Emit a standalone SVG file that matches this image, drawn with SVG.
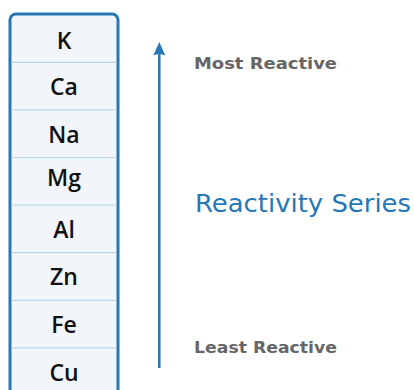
<svg xmlns="http://www.w3.org/2000/svg" width="414" height="390" viewBox="0 0 414 390">
<style>
.box{fill:#f2f6fa;stroke:#2677b5;stroke-width:3}
.div{stroke:#b9d5ec;stroke-width:1.2}
.el{font-family:"Open Sans","DejaVu Sans",sans-serif;font-weight:600;font-size:23px;fill:#111;text-anchor:middle}
.lbl{font-family:"DejaVu Sans",sans-serif;font-weight:bold;font-size:16.5px;fill:#666}
.title{font-family:"DejaVu Sans",sans-serif;font-size:25px;fill:#2677b5}
.conn{stroke:#2677b5;stroke-width:2.5;fill:none}
</style>
<rect width="414" height="390" fill="#ffffff"/>
<g id="series">
<rect class="box" x="10" y="14" width="108" height="400" rx="6"/>
<line class="div" x1="11.5" y1="62.3" x2="116.5" y2="62.3"/>
<line class="div" x1="11.5" y1="109.9" x2="116.5" y2="109.9"/>
<line class="div" x1="11.5" y1="157.5" x2="116.5" y2="157.5"/>
<line class="div" x1="11.5" y1="205.1" x2="116.5" y2="205.1"/>
<line class="div" x1="11.5" y1="252.7" x2="116.5" y2="252.7"/>
<line class="div" x1="11.5" y1="300.3" x2="116.5" y2="300.3"/>
<line class="div" x1="11.5" y1="347.9" x2="116.5" y2="347.9"/>
</g>
<g id="K"><text class="el" x="64" y="48.8">K</text></g>
<g id="Ca"><text class="el" x="64" y="95">Ca</text></g>
<g id="Na"><text class="el" x="64" y="142.9">Na</text></g>
<g id="Mg"><text class="el" x="64" y="186">Mg</text></g>
<g id="Al"><text class="el" x="64" y="237.5">Al</text></g>
<g id="Zn"><text class="el" x="64" y="285.2">Zn</text></g>
<g id="Fe"><text class="el" x="64" y="332.8">Fe</text></g>
<g id="Cu"><text class="el" x="64" y="380.5">Cu</text></g>
<g id="connectors">
<line class="conn" x1="159.3" y1="368" x2="159.3" y2="50"/>
<path d="M159.3,42 L165.3,55.5 Q159.3,52.5 153.3,55.5 Z" fill="#2677b5"/>
</g>
<g id="labels">
<text class="lbl" x="194" y="68.5" textLength="143" lengthAdjust="spacingAndGlyphs">Most Reactive</text>
<text class="title" x="195" y="212" textLength="216" lengthAdjust="spacingAndGlyphs">Reactivity Series</text>
<text class="lbl" x="194" y="353" textLength="143" lengthAdjust="spacingAndGlyphs">Least Reactive</text>
</g>
</svg>
